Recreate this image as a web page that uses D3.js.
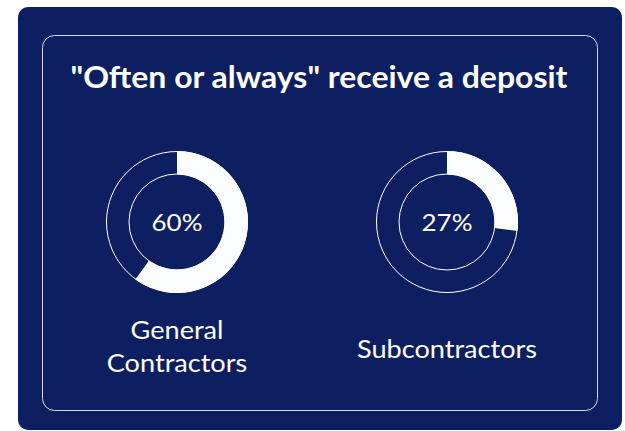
<!DOCTYPE html>
<html>
<head>
<meta charset="utf-8">
<script src="https://cdn.jsdelivr.net/npm/d3@7"></script>
<style>
  body { margin: 0; background: #ffffff; }
  svg { display: block; font-family: Lato, "Open Sans", sans-serif; }
</style>
</head>
<body>
<svg></svg>
<script>
const title = "\"Often or always\" receive a deposit";
const groups = ["General Contractors", "Subcontractors"];
const labelLines = [["General", "Contractors"], ["Subcontractors"]];
const shares = [60, 27];

const svg = d3.select("svg")
    .attr("width", 625)
    .attr("height", 431);

const navy = "#0d1f60";

svg.append("rect")
    .attr("x", 18).attr("y", 7)
    .attr("width", 604).attr("height", 423)
    .attr("rx", 10)
    .attr("fill", navy);

svg.append("rect")
    .attr("x", 42.5).attr("y", 35.5)
    .attr("width", 555).attr("height", 375)
    .attr("rx", 12)
    .attr("fill", "none")
    .attr("stroke", "#d8dcea")
    .attr("stroke-width", 1);

// the source's text is a bit wider than plain Lato, stretch it horizontally
svg.append("text")
    .attr("transform", "translate(319,88) scale(1.065,1)")
    .attr("text-anchor", "middle")
    .attr("fill", "#ffffff")
    .attr("font-weight", 700)
    .attr("font-size", 30)
    .text(title);

const x = d3.scalePoint().domain(groups).range([177, 447]);
const angle = d3.scaleLinear().domain([0, 100]).range([0, 2 * Math.PI]);
const outerR = 71, innerR = 47.5;

const arc = d3.arc().innerRadius(innerR).outerRadius(outerR);

const donut = svg.selectAll(".donut")
    .data(groups.map((g, i) => ({group: g, value: shares[i], lines: labelLines[i]})))
    .enter()
    .append("g")
      .attr("class", "donut")
      .attr("transform", d => `translate(${x(d.group)},222)`);

donut.append("circle").attr("r", outerR - 0.5)
    .attr("fill", "none").attr("stroke", "#ffffff").attr("stroke-width", 1);
donut.append("circle").attr("r", innerR + 0.5)
    .attr("fill", "none").attr("stroke", "#ffffff").attr("stroke-width", 1);

donut.append("path")
    .attr("d", d => arc({startAngle: 0, endAngle: angle(d.value)}))
    .attr("fill", "#fbfdff");

donut.append("text")
    .attr("transform", "translate(0,9) scale(1.13,1)")
    .attr("text-anchor", "middle")
    .attr("fill", "#ffffff")
    .attr("font-size", 23)
    .text(d => d.value + "%");

donut.append("text")
    .attr("transform", "scale(1.085,1)")
    .attr("text-anchor", "middle")
    .attr("fill", "#ffffff")
    .attr("font-size", 25)
    .selectAll("tspan")
    .data(d => d.lines.map((l, i, a) => ({line: l, i: i, n: a.length})))
    .enter()
    .append("tspan")
      .attr("x", 0)
      .attr("y", d => d.n === 1 ? 136 : 117 + d.i * 33)
      .text(d => d.line);
</script>
</body>
</html>
